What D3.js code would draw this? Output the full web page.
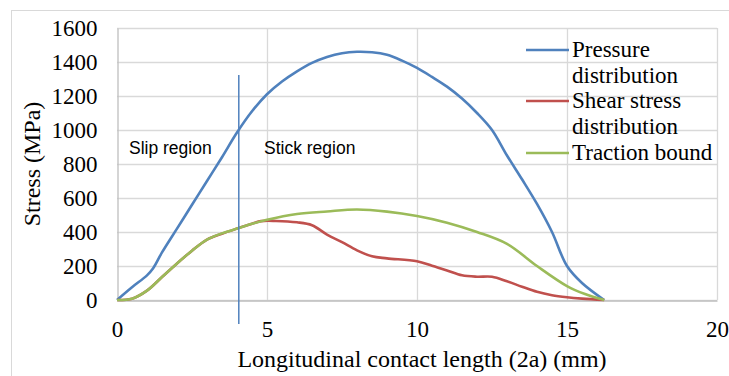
<!DOCTYPE html>
<html>
<head>
<meta charset="utf-8">
<script src="https://cdn.jsdelivr.net/npm/d3@7"></script>
<style>
  html, body { margin: 0; padding: 0; background: #fff; }
  svg { display: block; }
</style>
</head>
<body>
<svg id="chart" width="729" height="376"></svg>
<script>
// Contact position along the longitudinal length (mm) and stresses (MPa)
const pressureX = [0, 0.5, 1, 1.2, 1.5, 2, 2.5, 3, 3.5, 4, 4.5, 5, 5.5, 6, 6.5, 7, 7.5, 8, 8.5, 9, 9.5, 10, 10.5, 11, 11.5, 12, 12.5, 13, 13.5, 14, 14.5, 15, 15.5, 16.24];
const pressureY = [0, 75, 145, 185, 280, 420, 560, 700, 840, 985, 1110, 1210, 1285, 1345, 1395, 1430, 1452, 1460, 1457, 1442, 1408, 1365, 1312, 1255, 1185, 1100, 1000, 850, 710, 565, 400, 200, 100, 0];

const shearX = [0, 0.5, 1, 1.5, 2, 2.5, 3, 3.5, 4, 4.5, 4.8, 5.3, 6, 6.5, 7, 7.5, 8, 8.5, 9, 10, 10.5, 11, 11.5, 12, 12.5, 13, 13.5, 14, 14.5, 15, 15.5, 16.24];
const shearY = [0, 8, 55, 135, 215, 290, 355, 390, 420, 448, 464, 465, 457, 440, 385, 340, 292, 257, 245, 228, 202, 174, 145, 137, 137, 110, 78, 48, 28, 16, 8, 0];

const tractionX = [0, 0.5, 1, 1.5, 2, 2.5, 3, 3.5, 4, 4.5, 5, 6, 7, 8, 9, 10, 11, 12, 13, 14, 15, 15.6, 16.24];
const tractionY = [0, 8, 55, 135, 215, 290, 355, 392, 420, 448, 472, 506, 521, 532, 520, 494, 455, 400, 330, 200, 82, 35, 0];

const xTicks = [0, 5, 10, 15, 20];
const yTicks = [0, 200, 400, 600, 800, 1000, 1200, 1400, 1600];
const seriesColors = ["#4f81bd", "#c0504d", "#9bbb59"];
const stickBoundary = 4.06;
const regionLabels = ["Slip region", "Stick region"];
const regionLabelX = [0.4, 4.9];

const svg = d3.select("#chart");
const margin = { left: 117, right: 12, top: 28, bottom: 76 };
const W = 729, H = 376;

const x = d3.scaleLinear().domain([0, 20]).range([margin.left, W - margin.right]);
const y = d3.scaleLinear().domain([0, 1600]).range([H - margin.bottom, margin.top]);

// outer chart frame
svg.append("rect").attr("x", 11.5).attr("y", 10.5).attr("width", 740).attr("height", 400)
  .attr("fill", "none").attr("stroke", "#d9d9d9").attr("stroke-width", 1);

const serif = "'Liberation Serif', 'Times New Roman', serif";
const sans = "'Liberation Sans', Arial, sans-serif";
const fs = 23;

// horizontal gridlines
svg.append("g").selectAll("line").data(yTicks).join("line")
  .attr("x1", x(0)).attr("x2", x(20))
  .attr("y1", d => Math.round(y(d)) + 0.5).attr("y2", d => Math.round(y(d)) + 0.5)
  .attr("stroke", "#d9d9d9").attr("stroke-width", 1.3);

// vertical gridlines
svg.append("g").selectAll("line").data(xTicks.slice(1)).join("line")
  .attr("x1", d => Math.round(x(d)) + 0.5).attr("x2", d => Math.round(x(d)) + 0.5)
  .attr("y1", y(0)).attr("y2", y(1600))
  .attr("stroke", "#d9d9d9").attr("stroke-width", 1.3);

// axes
const xAxis = d3.axisBottom(x).tickValues(xTicks).tickFormat(d3.format("d")).tickSize(0).tickPadding(20);
const gx = svg.append("g").attr("transform", `translate(0,${Math.round(y(0)) + 0.5})`).call(xAxis);
gx.select(".domain").attr("stroke", "#bfbfbf").attr("stroke-width", 1.3);
gx.selectAll("text").attr("font-family", serif).attr("font-size", fs).attr("fill", "#000");

const yAxis = d3.axisLeft(y).tickValues(yTicks).tickFormat(d3.format("d")).tickSize(0).tickPadding(20);
const gy = svg.append("g").attr("transform", `translate(${Math.round(x(0)) + 0.5},0)`).call(yAxis);
gy.select(".domain").attr("stroke", "#bfbfbf").attr("stroke-width", 1.3);
gy.selectAll("text").attr("font-family", serif).attr("font-size", fs).attr("fill", "#000");

// axis titles
svg.append("text").attr("x", 422).attr("y", 367)
  .attr("text-anchor", "middle").attr("font-family", serif).attr("font-size", 24)
  .text("Longitudinal contact length (2a) (mm)");
svg.append("text").attr("transform", `translate(40,164) rotate(-90)`)
  .attr("text-anchor", "middle").attr("font-family", serif).attr("font-size", 24)
  .text("Stress (MPa)");

// series lines
const line = d3.line().x(d => x(d[0])).y(d => y(d[1])).curve(d3.curveCatmullRom.alpha(0.5));
const series = [
  d3.zip(pressureX, pressureY),
  d3.zip(shearX, shearY),
  d3.zip(tractionX, tractionY)
];
series.forEach((pts, i) => {
  svg.append("path").datum(pts).attr("d", line)
    .attr("fill", "none").attr("stroke", seriesColors[i]).attr("stroke-width", 2.6)
    .attr("stroke-linejoin", "round");
});

// slip / stick boundary
svg.append("line")
  .attr("x1", x(stickBoundary)).attr("x2", x(stickBoundary))
  .attr("y1", 75).attr("y2", 324)
  .attr("stroke", "#4f81bd").attr("stroke-width", 1.5);

regionLabels.forEach((t, i) => {
  svg.append("text").attr("x", x(regionLabelX[i])).attr("y", 154)
    .attr("font-family", sans).attr("font-size", 17.5).attr("fill", "#000").text(t);
});

// legend
const legendRows = [
  { lines: ["Pressure", "distribution"], y: 57 },
  { lines: ["Shear stress", "distribution"], y: 108 },
  { lines: ["Traction bound"], y: 160 }
];
legendRows.forEach((r, i) => {
  svg.append("line").attr("x1", 526).attr("x2", 569)
    .attr("y1", r.y - 7).attr("y2", r.y - 7)
    .attr("stroke", seriesColors[i]).attr("stroke-width", 2.6);
  r.lines.forEach((t, j) => {
    svg.append("text").attr("x", 572).attr("y", r.y + j * 26)
      .attr("font-family", serif).attr("font-size", fs).attr("fill", "#000").text(t);
  });
});
</script>
</body>
</html>
